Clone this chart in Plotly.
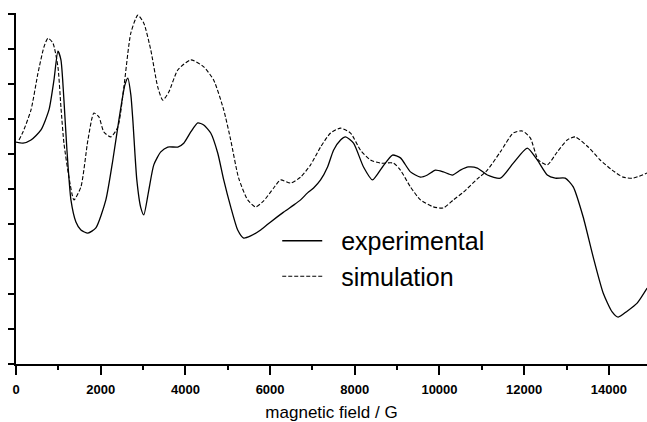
import plotly.graph_objects as go

# magnetic field (G) and intensity (arb. units)
exp_field = [0, 165, 354, 590, 778, 896, 990, 1061, 1132, 1203, 1297, 1415, 1533, 1698, 1886,
             2122, 2287, 2429, 2570, 2641, 2712, 2759, 2853, 2948, 3018, 3136, 3254, 3419, 3584,
             3820, 3961, 4127, 4292, 4433, 4598, 4763, 4905, 5070, 5235, 5376, 5541, 5777, 6013,
             6319, 6555, 6720, 6885, 7027, 7192, 7357, 7498, 7664, 7781, 7970, 8206, 8418, 8654,
             8890, 9078, 9314, 9550, 9715, 9904, 10092, 10304, 10493, 10682, 10894, 11130,
             11436, 11743, 12073, 12309, 12545, 12733, 12969, 13158, 13393, 13629, 13865, 14077,
             14219, 14431, 14667, 14903]
exp_signal = [6.34, 6.31, 6.40, 6.69, 7.26, 8.11, 8.94, 8.69, 7.54, 6.11, 4.69, 4.06, 3.83, 3.74, 3.89,
              4.69, 5.83, 6.97, 7.97, 8.17, 7.69, 6.97, 5.26, 4.46, 4.26, 4.97, 5.69, 6.06, 6.20,
              6.20, 6.31, 6.63, 6.89, 6.83, 6.60, 6.03, 5.26, 4.49, 3.83, 3.60, 3.66, 3.83, 4.06,
              4.34, 4.54, 4.69, 4.89, 5.03, 5.26, 5.63, 6.11, 6.40, 6.49, 6.31, 5.63, 5.26, 5.63,
              5.97, 5.89, 5.49, 5.34, 5.40, 5.54, 5.49, 5.40, 5.54, 5.63, 5.60, 5.40,
              5.31, 5.74, 6.17, 5.83, 5.40, 5.31, 5.31, 5.06, 4.20, 3.06, 2.03, 1.49,
              1.34, 1.51, 1.74, 2.17]

sim_field = [71, 165, 354, 519, 660, 755, 872, 990, 1061, 1132, 1250, 1368, 1533, 1698, 1839,
             1957, 2075, 2240, 2405, 2547, 2712, 2877, 3018, 3183, 3348, 3466, 3608, 3820, 4127,
             4433, 4669, 4905, 5070, 5258, 5471, 5659, 5848, 6084, 6249, 6485, 6720, 6956, 7192,
             7428, 7664, 7899, 8135, 8371, 8607, 8913, 9078, 9314, 9550, 9856, 10092, 10328,
             10564, 10894, 11130, 11436, 11743, 11955, 12144, 12332, 12545, 12780, 13016, 13205,
             13511, 13795, 14077, 14337, 14572, 14903]
sim_signal = [6.40, 6.63, 7.26, 8.31, 9.06, 9.31, 9.17, 8.49, 7.34, 6.31, 5.34, 4.69, 5.06, 6.40, 7.17,
              7.06, 6.63, 6.49, 6.77, 7.91, 9.46, 9.97, 9.74, 8.97, 7.91, 7.54, 7.77, 8.40, 8.69,
              8.49, 8.11, 7.26, 6.40, 5.31, 4.69, 4.49, 4.66, 5.03, 5.26, 5.17, 5.34, 5.69, 6.20,
              6.60, 6.74, 6.60, 6.11, 5.83, 5.74, 5.74, 5.54, 5.06, 4.69, 4.49, 4.46, 4.69,
              4.91, 5.29, 5.54, 6.06, 6.60, 6.66, 6.46, 5.83, 5.69, 6.06, 6.40, 6.49,
              6.20, 5.83, 5.54, 5.34, 5.31, 5.46]

x_ticks = [0, 2000, 4000, 6000, 8000, 10000, 12000, 14000]

FONT = 'Liberation Sans, Arial, sans-serif'
GAP = '\u00a0\u00a0'  # extra room between legend line and its text

fig = go.Figure()
fig.add_trace(go.Scatter(x=exp_field, y=exp_signal, mode='lines', name=GAP + 'experimental',
                         line=dict(color='black', width=1.3, shape='spline', smoothing=0.6)))
fig.add_trace(go.Scatter(x=sim_field, y=sim_signal, mode='lines', name=GAP + 'simulation',
                         line=dict(color='black', width=1.1, dash='4px,2px', shape='spline', smoothing=0.6)))

fig.update_layout(
    width=647, height=422,
    margin=dict(l=16, r=0, t=13, b=58),
    plot_bgcolor='white', paper_bgcolor='white',
    font=dict(family=FONT, color='black'),
    legend=dict(x=0.414, y=0.416, xanchor='left', yanchor='top',
                font=dict(size=25, color='black'), bgcolor='rgba(0,0,0,0)',
                itemwidth=40, tracegroupgap=0),
    xaxis=dict(range=[0, 14900], tickvals=x_ticks, ticktext=[str(v) for v in x_ticks],
               ticks='outside', ticklen=9, tickwidth=2, tickcolor='black', ticklabelstandoff=3,
               minor=dict(dtick=1000, ticks='outside', ticklen=4, tickwidth=2, tickcolor='black'),
               showline=True, linewidth=2, linecolor='black', showgrid=False, zeroline=False,
               tickfont=dict(size=13, weight='bold'), automargin=False,
               title=dict(text='magnetic field / G', font=dict(size=17), standoff=13)),
    yaxis=dict(range=[0, 10.03], dtick=1, tick0=0, ticks='outside', ticklen=6, tickwidth=2,
               tickcolor='black', showticklabels=False, automargin=False,
               showline=True, linewidth=2, linecolor='black', showgrid=False, zeroline=False),
)

# drop the browser's default body margin so the 647x422 figure fills the window
fig.write_html('out.html', config={'displayModeBar': False},
               post_script="document.body.style.margin='0';")
